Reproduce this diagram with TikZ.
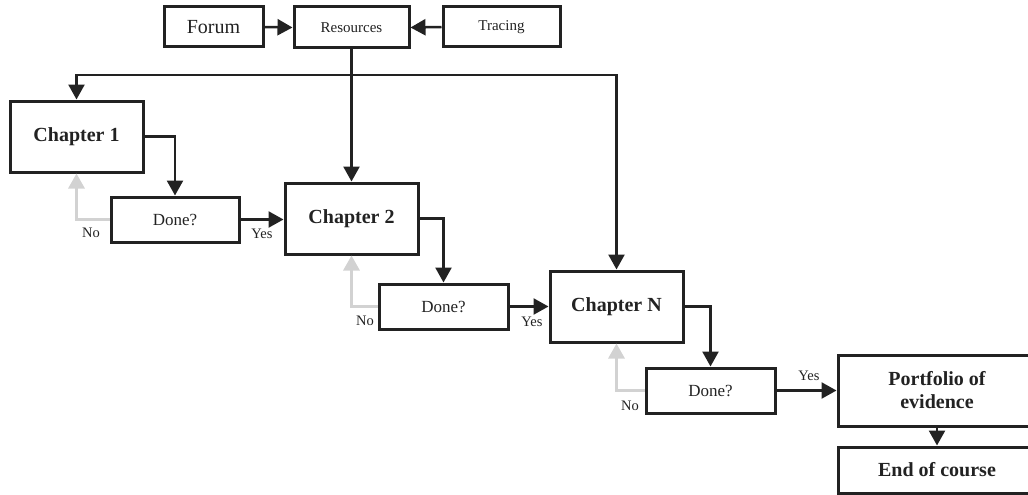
\documentclass[tikz,border=0pt]{standalone}
\usepackage{fontspec}
\setmainfont{Liberation Serif}
\usetikzlibrary{arrows.meta}
\definecolor{ink}{HTML}{222222}
\definecolor{loopgray}{HTML}{D2D2D2}
\tikzset{
  box/.style={draw=ink, line width=3pt, rectangle, inner sep=0pt, text=ink},
  chapbox/.style={box, minimum width=133pt, minimum height=71pt, font=\fontsize{20}{23}\selectfont\bfseries},
  askbox/.style={box, minimum width=128pt, minimum height=45pt, font=\fontsize{17}{19}\selectfont},
  topbox/.style={box, minimum height=40pt},
  endbox/.style={box, minimum width=198pt, font=\fontsize{20}{23}\selectfont\bfseries, align=center},
  flow/.style={draw=ink, line width=2.5pt, -{Triangle[length=15pt,width=16pt]}},
  back/.style={draw=loopgray, line width=3pt, -{Triangle[length=15pt,width=16pt]}},
  tag/.style={font=\fontsize{14.5}{16}\selectfont, text=ink, inner sep=0pt}
}
\begin{document}
\begin{tikzpicture}[x=1pt, y=-1pt]
\useasboundingbox (0,0) rectangle (1028,495);

% top row
\node[topbox, minimum width=99pt, font=\fontsize{20}{22}\selectfont] (forum) at (213.5,27) {Forum};
\node[topbox, minimum width=115pt, minimum height=41pt, font=\fontsize{15}{17}\selectfont] (res) at (351.5,27.5) {Resources};
\node[topbox, minimum width=117pt, font=\fontsize{15}{17}\selectfont] (trace) at (501.5,27) {Tracing};

% chapters and checks
\node[chapbox] (ch1) at (76.5,136.5) {Chapter 1};
\node[askbox] (d1) at (175,219.5) {Done?};
\node[chapbox] (ch2) at (351.5,218.5) {Chapter 2};
\node[askbox, minimum width=129pt] (d2) at (443.5,306.5) {Done?};
\node[chapbox] (chn) at (616.5,306.5) {Chapter N};
\node[askbox, minimum width=129pt] (d3) at (710.5,390.5) {Done?};

% closing boxes
\node[endbox, minimum height=71pt] (port) at (937,390.5) {Portfolio of\\evidence};
\node[endbox, minimum height=46pt] (end) at (937,470) {End of course};

% resources distribution
\coordinate (hub) at (351.5,75);
\draw[flow] (forum.east) -- (res.west);
\draw[flow] (trace.west) -- (res.east);
\draw[flow] (res.south) -- (ch2.north);
\draw[flow] (hub) -| (ch1.north);
\draw[flow] (hub) -| (chn.north);

% chapter to check
\draw[flow] (ch1.east) -| (d1.north);
\draw[flow] (ch2.east) -| (d2.north);
\draw[flow] (chn.east) -| (d3.north);

% yes paths
\draw[flow] (d1.east) -- (d1.east -| ch2.west);
\draw[flow] (d2.east) -- (d2.east -| chn.west);
\draw[flow] (d3.east) -- (d3.east -| port.west);
\draw[flow] (port.south) -- (end.north);

% no loops
\draw[back] (d1.west) -| (ch1.south);
\draw[back] (d2.west) -| (ch2.south);
\draw[back] (d3.west) -| (chn.south);

% labels
\node[tag] (no1) at (91,233) {No};
\node[tag] (yes1) at (262,234) {Yes};
\node[tag] (no2) at (365,321) {No};
\node[tag] (yes2) at (532,322) {Yes};
\node[tag] (no3) at (630,406) {No};
\node[tag] (yes3) at (809,376) {Yes};
\end{tikzpicture}
\end{document}
